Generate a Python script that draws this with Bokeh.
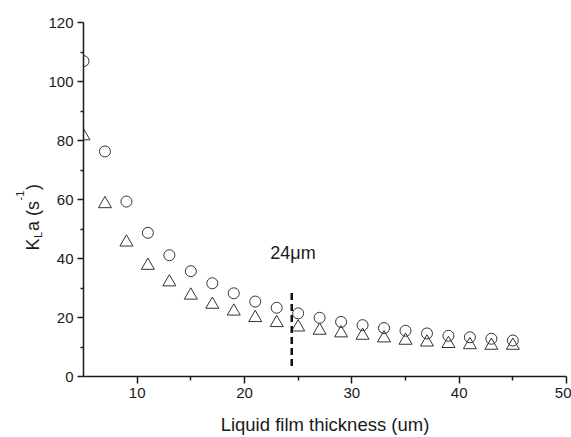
from bokeh.plotting import figure
from bokeh.models import Range1d, FixedTicker, ColumnDataSource
from bokeh.layouts import row
from bokeh.core.properties import value
from bokeh.embed import file_html
from bokeh.resources import INLINE
import math

# ---------------- data ----------------
thickness = [5, 7, 9, 11, 13, 15, 17, 19, 21, 23, 25, 27, 29, 31, 33, 35, 37, 39, 41, 43, 45]
kla_circle = [106.9, 76.3, 59.3, 48.7, 41.1, 35.7, 31.6, 28.2, 25.4, 23.3, 21.4, 19.9,
              18.5, 17.4, 16.4, 15.5, 14.6, 13.8, 13.3, 12.8, 12.2]
kla_triangle = [81.5, 58.5, 45.5, 37.6, 32.0, 27.5, 24.4, 22.1, 19.9, 18.2, 16.7, 15.6,
                14.7, 13.9, 13.0, 12.2, 11.6, 11.1, 10.7, 10.5, 10.5]
marker_x = [24.4]
marker_y0 = [3.6]
marker_y1 = [29.7]
note_text = ["24\u03bcm"]
note_x = [22.4]
note_y = [42]
x_ticks = [10, 20, 30, 40, 50]
x_minor = [15, 25, 35, 45]
y_ticks = [0, 20, 40, 60, 80, 100, 120]
y_minor = [10, 30, 50, 70, 90, 110]
x_title = "Liquid film thickness (um)"
y_title_parts = ["K", "L", "a (s", "-1", ")"]
X_MIN, X_MAX, Y_MIN, Y_MAX = 5, 50, 0, 120

FONT = "Liberation Sans"
INK = "#1a1a1a"

W, H = 571, 437
LW = 45                       # width of the strip holding the y title
BL, BR, BT, BB = 83 - LW, 5, 22, 61
FH = H - BT - BB
px_y = FH / (Y_MAX - Y_MIN)

y_range = Range1d(Y_MIN, Y_MAX)

# ---------------- y-title strip (shares the y range and vertical borders) ----------------
lab = figure(width=LW, height=H, output_backend="svg", toolbar_location=None,
             x_range=Range1d(0, LW), y_range=y_range, title=None,
             min_border_left=0, min_border_right=0, min_border_top=BT, min_border_bottom=BB,
             x_axis_location=None, y_axis_location=None)
lab.outline_line_color = None
lab.xgrid.visible = False
lab.ygrid.visible = False
lab.background_fill_color = "white"
lab.border_fill_color = "white"

# font px, baseline x (px), start along the text (px from top of page)
part_size = [18, 11, 18, 11, 18]
part_base = [32, 37, 32, 19, 32]
part_start = [250, 237.5, 230.5, 200, 189.5]
for txt, size, bx, st in zip(y_title_parts, part_size, part_base, part_start):
    lab.text(x=[bx], y=[Y_MIN + (BT + FH - st) / px_y], text=[txt], angle=math.pi / 2,
             text_font=value(FONT), text_font_size=f"{size}px", text_color=INK,
             text_align="left", text_baseline="alphabetic")

# ---------------- main plot ----------------
p = figure(width=W - LW, height=H, output_backend="svg", toolbar_location=None,
           x_range=Range1d(X_MIN, X_MAX), y_range=y_range, title=None,
           min_border_left=BL, min_border_right=BR, min_border_top=BT, min_border_bottom=BB)
p.outline_line_color = None
p.xgrid.visible = False
p.ygrid.visible = False
p.background_fill_color = "white"
p.border_fill_color = "white"

for ax in (p.xaxis[0], p.yaxis[0]):
    ax.axis_line_color = INK
    ax.axis_line_width = 1.5
    ax.major_tick_line_color = INK
    ax.minor_tick_line_color = INK
    ax.major_tick_line_width = 1.5
    ax.minor_tick_line_width = 1.5
    ax.major_tick_in = 0
    ax.minor_tick_in = 0
    ax.major_label_text_font = FONT
    ax.major_label_text_font_size = "15px"
    ax.major_label_text_color = INK
    ax.axis_label_text_font = FONT
    ax.axis_label_text_font_style = "normal"
    ax.axis_label_text_color = INK

p.xaxis[0].ticker = FixedTicker(ticks=x_ticks, minor_ticks=x_minor)
p.yaxis[0].ticker = FixedTicker(ticks=y_ticks, minor_ticks=y_minor)
p.xaxis[0].major_tick_out = 7
p.xaxis[0].minor_tick_out = 4
p.yaxis[0].major_tick_out = 6
p.yaxis[0].minor_tick_out = 3
p.xaxis[0].major_label_standoff = 4
p.yaxis[0].major_label_standoff = 4
p.xaxis[0].axis_label = x_title
p.xaxis[0].axis_label_text_font_size = "18.5px"
p.xaxis[0].axis_label_standoff = 13

src = ColumnDataSource(dict(x=thickness, c=kla_circle, t=kla_triangle))
p.scatter("x", "c", source=src, marker="circle", size=11, fill_color=None,
          line_color="#333333", line_width=1)
p.scatter("x", "t", source=src, marker="triangle", size=13, fill_color=None,
          line_color="#333333", line_width=1)

p.segment(x0=marker_x, y0=marker_y0, x1=marker_x, y1=marker_y1,
          line_color="#111111", line_width=2.5, line_dash="7 4")

p.text(x=note_x, y=note_y, text=note_text, text_font=value(FONT),
       text_font_size="18px", text_color=INK, text_baseline="middle", text_align="left")

layout = row(lab, p, spacing=0)
open("out.html", "w").write(file_html(layout, INLINE))
